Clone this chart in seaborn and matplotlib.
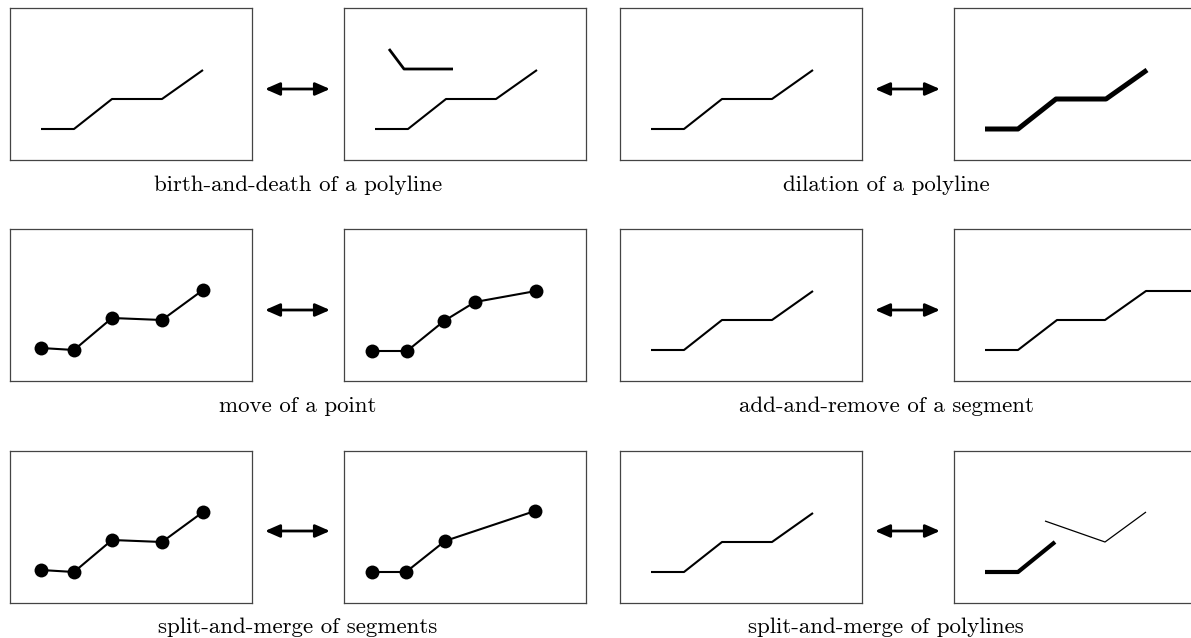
import numpy as np
import pandas as pd
import matplotlib
matplotlib.use('Agg')
import matplotlib.pyplot as plt
from matplotlib.patches import FancyArrowPatch
import seaborn as sns

# polyline vertices in panel units (panel is 242 x 152, y upward)
base_x = [31, 64, 102, 152, 193]
base_y = [31, 31, 61, 61, 90]
birth_x = [45, 60, 109]
birth_y = [111, 91, 91]

pts_x = [31, 64, 102, 152, 193]
pts_y = [33, 31, 63, 61, 91]
moved_x = [28, 63, 100, 131, 192]
moved_y = [30, 30, 60, 79, 90]

added_x = [31, 64, 103, 151, 192, 242]
added_y = [31, 31, 61, 61, 90, 90]

merged_x = [28, 62, 101, 191]
merged_y = [31, 31, 62, 92]

split_a_x = [31, 64, 101]
split_a_y = [31, 31, 61]
split_b_x = [91, 151, 192]
split_b_y = [82, 61, 91]

captions = ['birth-and-death of a polyline', 'dilation of a polyline',
            'move of a point', 'add-and-remove of a segment',
            'split-and-merge of segments', 'split-and-merge of polylines']

sns.set_style('white')
plt.rcParams['font.family'] = ['cmr10', 'DejaVu Serif']
plt.rcParams['lines.solid_capstyle'] = 'butt'

W, H = 1191, 638
fig = plt.figure(figsize=(W / 100, H / 100), dpi=100)

row_tops = [8, 229, 451]
col_lefts = [10, 344, 620, 954]
pw, ph = 242, 152


def panel(row, col):
    left, top = col_lefts[col], row_tops[row]
    ax = fig.add_axes([left / W, (H - top - ph) / H, pw / W, ph / H])
    ax.set_xlim(0, pw)
    ax.set_ylim(0, ph)
    ax.set_xticks([])
    ax.set_yticks([])
    for s in ax.spines.values():
        s.set_color('#444444')
        s.set_linewidth(0.9)
    return ax


def line(ax, xs, ys, lw=1.5, dots=False):
    df = pd.DataFrame({'x': xs, 'y': ys})
    kw = dict(marker='o', markersize=10, markeredgewidth=0) if dots else {}
    sns.lineplot(data=df, x='x', y='y', sort=False, estimator=None,
                 color='black', linewidth=lw, ax=ax, **kw)
    ax.set_xlabel('')
    ax.set_ylabel('')


# row 1
line(panel(0, 0), base_x, base_y)
ax = panel(0, 1)
line(ax, base_x, base_y)
line(ax, birth_x, birth_y, lw=2)
line(panel(0, 2), base_x, base_y)
line(panel(0, 3), base_x, base_y, lw=3.6)

# row 2
line(panel(1, 0), pts_x, pts_y, dots=True)
line(panel(1, 1), moved_x, moved_y, dots=True)
line(panel(1, 2), base_x, base_y)
line(panel(1, 3), added_x, added_y)

# row 3
line(panel(2, 0), pts_x, pts_y, dots=True)
line(panel(2, 1), merged_x, merged_y, dots=True)
line(panel(2, 2), base_x, base_y)
ax = panel(2, 3)
line(ax, split_a_x, split_a_y, lw=3)
line(ax, split_b_x, split_b_y, lw=0.9)

# double arrows between panels
arrow_y = [89, 310, 531]
for yy in arrow_y:
    for x0, x1 in [(265, 330), (875, 940)]:
        arr = FancyArrowPatch((x0 / W, 1 - yy / H), (x1 / W, 1 - yy / H),
                              transform=fig.transFigure,
                              arrowstyle='<|-|>,head_length=0.8,head_width=0.35',
                              mutation_scale=11, color='black', linewidth=2,
                              shrinkA=0, shrinkB=0)
        fig.add_artist(arr)

# captions
cap_x = [298, 886]
cap_y = [185, 406, 627]
for i, txt in enumerate(captions):
    fig.text(cap_x[i % 2] / W, 1 - cap_y[i // 2] / H, txt, ha='center', va='center',
             fontsize=16.5, color='black')

fig.savefig('out.png', dpi=100)
